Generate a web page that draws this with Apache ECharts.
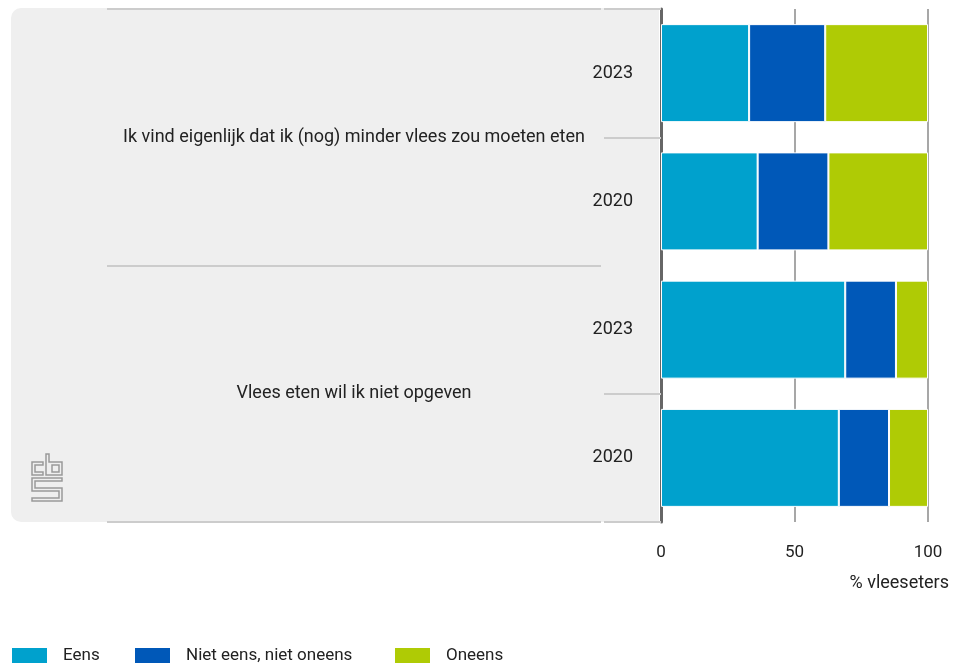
<!DOCTYPE html>
<html>
<head>
<meta charset="utf-8">
<script src="https://cdn.jsdelivr.net/npm/echarts@6/dist/echarts.min.js"></script>
<style>html,body{margin:0;padding:0;background:#fff}#c{width:966px;height:666px}</style>
</head>
<body>
<div id="c"></div>
<script>
var years = ['2023', '2020', '2023', '2020'];
var groups = ['Ik vind eigenlijk dat ik (nog) minder vlees zou moeten eten', 'Vlees eten wil ik niet opgeven'];
var seriesNames = ['Eens', 'Niet eens, niet oneens', 'Oneens'];
var eens = [33.0, 36.2, 69.0, 66.6];
var neutraal = [28.5, 26.5, 19.0, 18.8];
var oneens = [38.5, 37.3, 12.0, 14.6];
var xTicks = [0, 50, 100];
var xName = '% vleeseters';

var FONT = 'Roboto';
var TXT = '#222';
var colors = ['#00a1cd', '#0058b8', '#afcb05'];
var values = [eens, neutraal, oneens];
var legendLefts = [10, 133, 393];

var chart = echarts.init(document.getElementById('c'), null, {renderer: 'canvas'});
var gridLeft = 661, gridRight = 38, gridTop = 9, gridBottom = 144;

var logoStyle = {fill: 'none', stroke: '#9a9a9a', lineWidth: 1.5};
var option = {
  animation: false,
  textStyle: {fontFamily: FONT},
  graphic: [
    {type: 'rect', z: -10, shape: {x: 11, y: 8, width: 648, height: 514, r: [10, 0, 0, 10]}, style: {fill: '#efefef'}},
    {type: 'polygon', z: 5, shape: {points: [[43,462],[32,462],[32,475],[43,475],[43,472],[35,472],[35,465],[43,465]]}, style: logoStyle},
    {type: 'polygon', z: 5, shape: {points: [[46,454],[49,454],[49,462],[62,462],[62,475],[46,475]]}, style: logoStyle},
    {type: 'rect', z: 5, shape: {x: 52, y: 465, width: 7, height: 7}, style: logoStyle},
    {type: 'polygon', z: 5, shape: {points: [[32,478],[62,478],[62,481],[35,481],[35,488],[62,488],[62,501],[32,501],[32,498],[59,498],[59,491],[32,491]]}, style: logoStyle}
  ],
  legend: seriesNames.map(function (n, k) {
    return {
      left: legendLefts[k], top: 646, padding: 0, itemWidth: 37, itemHeight: 17, icon: 'rect',
      data: [n],
      textStyle: {fontFamily: FONT, fontSize: 17, color: TXT, padding: [1, 0, 0, 10]}
    };
  }),
  grid: {left: gridLeft, right: gridRight, top: gridTop, bottom: gridBottom},
  xAxis: {
    type: 'value', min: xTicks[0], max: xTicks[xTicks.length - 1], interval: 50,
    axisLine: {show: false}, axisTick: {show: false},
    splitLine: {show: true, lineStyle: {color: '#8a8a8a', width: 1.5}},
    axisLabel: {fontFamily: FONT, fontSize: 17, color: TXT, margin: 22},
    name: xName, nameLocation: 'end', nameGap: 21,
    nameTextStyle: {fontFamily: FONT, fontSize: 18, color: TXT, align: 'right', verticalAlign: 'top', padding: [52, 0, 0, 0]}
  },
  yAxis: [
    {
      type: 'category', data: years, inverse: true, position: 'left', offset: 2,
      axisLine: {show: true, lineStyle: {color: '#666', width: 3}},
      axisTick: {show: true, length: 57, interval: function (i) { return i % 2 === 1 || i === 0; }, lineStyle: {color: '#cccccc', width: 2}},
      axisLabel: {fontFamily: FONT, fontSize: 18, color: TXT, margin: 26, padding: [2, 0, 0, 0]}
    },
    {
      type: 'category', data: groups, inverse: true, position: 'left', offset: 60,
      axisLine: {show: false},
      axisTick: {show: true, length: 494, lineStyle: {color: '#cccccc', width: 2}},
      axisLabel: {fontFamily: FONT, fontSize: 18, color: TXT, margin: 247, align: 'center', padding: [3, 0, 0, 0]}
    }
  ],
  series: seriesNames.map(function (n, k) {
    return {
      name: n, type: 'bar', stack: 'total', yAxisIndex: 0, barWidth: 98,
      data: values[k],
      itemStyle: {color: colors[k], borderColor: '#fff', borderWidth: 1}
    };
  })
};
chart.setOption(option);
</script>
</body>
</html>
